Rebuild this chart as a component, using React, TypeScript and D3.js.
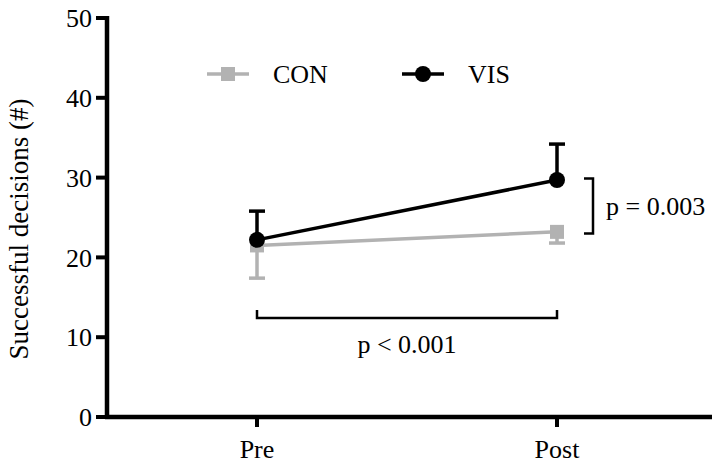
import React from "react";
import * as d3 from "d3";

const categories = ["Pre", "Post"];
const conMean = [21.5, 23.2];
const conErr = [4.1, 1.4];
const visMean = [22.2, 29.7];
const visErr = [3.6, 4.5];
const yTicks = [0, 10, 20, 30, 40, 50];

const GRAY = "#b2b2b2";
const FONT = "'Liberation Serif', 'Times New Roman', serif";
const FS = 26;

export default function App() {
  const W = 723, H = 469;
  const y = d3.scaleLinear().domain([0, 50]).range([417, 18]);
  const x = d3.scalePoint<string>().domain(categories).range([257, 557]);
  const axisX = 107;
  const line = d3.line<number>().x((_, i) => x(categories[i])!).y((d) => y(d));
  const cap = 8;

  return (
    <svg width={W} height={H} style={{ position: "absolute", left: 0, top: 0, background: "#fff" }}>
      {/* axes */}
      <line x1={axisX} x2={axisX} y1={y(50) - 2} y2={y(0) + 2} stroke="#000" strokeWidth={4.5} />
      <line x1={axisX - 2} x2={712} y1={y(0)} y2={y(0)} stroke="#000" strokeWidth={4.5} />
      {yTicks.map((t) => (
        <g key={t}>
          <line x1={axisX - 11} x2={axisX} y1={y(t)} y2={y(t)} stroke="#000" strokeWidth={4} />
          <text x={axisX - 15} y={y(t)} dy="0.35em" textAnchor="end" fontFamily={FONT} fontSize={FS}>{t}</text>
        </g>
      ))}
      {categories.map((c) => (
        <g key={c}>
          <line x1={x(c)} x2={x(c)} y1={y(0)} y2={y(0) + 10} stroke="#000" strokeWidth={4} />
          <text x={x(c)} y={y(0) + 41} textAnchor="middle" fontFamily={FONT} fontSize={FS}>{c}</text>
        </g>
      ))}
      <text transform={`translate(28,229) rotate(-90)`} textAnchor="middle" fontFamily={FONT} fontSize={27}>
        Successful decisions (#)
      </text>

      {/* CON error bars (downward) */}
      {categories.map((c, i) => (
        <g key={"ce" + c} stroke={GRAY} strokeWidth={3.5}>
          <line x1={x(c)} x2={x(c)} y1={y(conMean[i])} y2={y(conMean[i] - conErr[i])} />
          <line x1={x(c)! - cap} x2={x(c)! + cap} y1={y(conMean[i] - conErr[i])} y2={y(conMean[i] - conErr[i])} />
        </g>
      ))}
      {/* VIS error bars (upward) */}
      {categories.map((c, i) => (
        <g key={"ve" + c} stroke="#000" strokeWidth={3.5}>
          <line x1={x(c)} x2={x(c)} y1={y(visMean[i])} y2={y(visMean[i] + visErr[i])} />
          <line x1={x(c)! - cap} x2={x(c)! + cap} y1={y(visMean[i] + visErr[i])} y2={y(visMean[i] + visErr[i])} />
        </g>
      ))}

      <path d={line(conMean)!} fill="none" stroke={GRAY} strokeWidth={3.5} />
      {categories.map((c, i) => (
        <rect key={"cs" + c} x={x(c)! - 7} y={y(conMean[i]) - 7} width={14} height={14} fill={GRAY} />
      ))}
      <path d={line(visMean)!} fill="none" stroke="#000" strokeWidth={3.5} />
      {categories.map((c, i) => (
        <circle key={"vc" + c} cx={x(c)} cy={y(visMean[i])} r={8} fill="#000" />
      ))}

      {/* legend */}
      <line x1={207} x2={249} y1={74} y2={74} stroke={GRAY} strokeWidth={3.5} />
      <rect x={221} y={67} width={14} height={14} fill={GRAY} />
      <text x={273} y={74} dy="0.35em" fontFamily={FONT} fontSize={FS}>CON</text>
      <line x1={402} x2={444} y1={74} y2={74} stroke="#000" strokeWidth={3.5} />
      <circle cx={423} cy={74} r={8} fill="#000" />
      <text x={468} y={74} dy="0.35em" fontFamily={FONT} fontSize={FS}>VIS</text>

      {/* right bracket */}
      <path d={`M584,${y(29.9)} H593 V${y(23)} H584`} fill="none" stroke="#000" strokeWidth={2.5} />
      <text x={606} y={(y(29.9) + y(23)) / 2} dy="0.35em" fontFamily={FONT} fontSize={FS}>p = 0.003</text>

      {/* bottom bracket */}
      <path d={`M${x("Pre")},310 V318 H${x("Post")} V310`} fill="none" stroke="#000" strokeWidth={2.5} />
      <text x={(x("Pre")! + x("Post")!) / 2} y={353} textAnchor="middle" fontFamily={FONT} fontSize={FS}>p &lt; 0.001</text>
    </svg>
  );
}
